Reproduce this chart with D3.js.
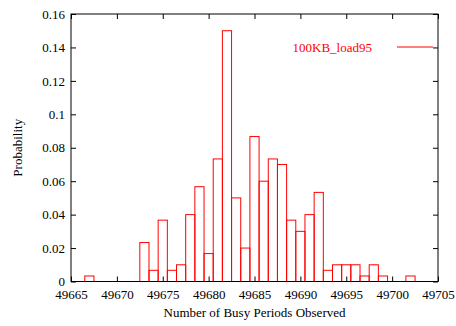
<!DOCTYPE html>
<html>
<head>
<meta charset="utf-8">
<script src="https://cdn.jsdelivr.net/npm/d3@7"></script>
<style>
  html, body { margin: 0; padding: 0; background: #fff; }
  svg { display: block; }
  text { font-family: "Liberation Serif", "Times New Roman", serif; }
</style>
</head>
<body>
<svg id="chart" width="456" height="326"></svg>
<script>
// Observed busy-period counts and their probabilities (share of 300 runs)
const busyPeriods = [49667, 49668, 49669, 49670, 49671, 49672, 49673, 49674, 49675, 49676,
  49677, 49678, 49679, 49680, 49681, 49682, 49683, 49684, 49685, 49686,
  49687, 49688, 49689, 49690, 49691, 49692, 49693, 49694, 49695, 49696,
  49697, 49698, 49699, 49700, 49701, 49702];
const probability = [0.0033, 0, 0, 0, 0, 0, 0.0233, 0.0067, 0.0367, 0.0067,
  0.01, 0.04, 0.0567, 0.0167, 0.0733, 0.15, 0.05, 0.02, 0.0867, 0.06,
  0.0733, 0.07, 0.0367, 0.03, 0.04, 0.0533, 0.0067, 0.01, 0.01, 0.01,
  0.0033, 0.01, 0.0033, 0, 0, 0.0033];
const xTicks = [49665, 49670, 49675, 49680, 49685, 49690, 49695, 49700, 49705];
const yTicks = [0, 0.02, 0.04, 0.06, 0.08, 0.1, 0.12, 0.14, 0.16];
const seriesName = "100KB_load95";

const svg = d3.select("#chart");
const plot = { left: 71, right: 438, top: 14, bottom: 281.5 };
const red = "#ff0000";
const fontSize = "13px";

const x = d3.scaleLinear().domain([49665, 49705]).range([plot.left, plot.right]);
const y = d3.scaleLinear().domain([0, 0.16]).range([plot.bottom, plot.top]);

// Histogram boxes: one unit wide, centred on each count
svg.append("g")
  .selectAll("rect")
  .data(busyPeriods.map((v, i) => ({ v, p: probability[i] })))
  .join("rect")
  .attr("x", d => x(d.v - 0.5))
  .attr("width", d => x(d.v + 0.5) - x(d.v - 0.5))
  .attr("y", d => y(d.p))
  .attr("height", d => y(0) - y(d.p))
  .attr("fill", "none")
  .attr("stroke", red)
  .attr("stroke-width", 1);

// Inward ticks on all four sides
const tickLen = 5;
const bottomAxis = d3.axisBottom(x).tickValues(xTicks).tickSize(-tickLen).tickPadding(8).tickFormat(d3.format("d"));
const topAxis = d3.axisTop(x).tickValues(xTicks).tickSize(-tickLen).tickFormat("");
const leftAxis = d3.axisLeft(y).tickValues(yTicks).tickSize(-tickLen).tickPadding(6).tickFormat(d => d === 0 ? "0" : String(+d.toFixed(2)));
const rightAxis = d3.axisRight(y).tickValues(yTicks).tickSize(-tickLen).tickFormat("");

function style(g) {
  g.select(".domain").remove();
  g.selectAll("line").attr("stroke", "#000");
  g.selectAll("text").attr("fill", "#000").style("font-size", fontSize)
    .style("font-family", "'Liberation Serif', serif");
}
svg.append("g").attr("transform", `translate(0,${plot.bottom})`).call(bottomAxis).call(style);
svg.append("g").attr("transform", `translate(0,${plot.top})`).call(topAxis).call(style);
svg.append("g").attr("transform", `translate(${plot.left},0)`).call(leftAxis).call(style);
svg.append("g").attr("transform", `translate(${plot.right},0)`).call(rightAxis).call(style);

// Plot frame
svg.append("rect")
  .attr("x", plot.left).attr("y", plot.top)
  .attr("width", plot.right - plot.left).attr("height", plot.bottom - plot.top)
  .attr("fill", "none").attr("stroke", "#000").attr("stroke-width", 1);

// Axis titles
svg.append("text")
  .attr("x", (plot.left + plot.right) / 2).attr("y", 317)
  .attr("text-anchor", "middle").style("font-size", fontSize)
  .text("Number of Busy Periods Observed");
svg.append("text")
  .attr("transform", `translate(22,${(plot.top + plot.bottom) / 2}) rotate(-90)`)
  .attr("text-anchor", "middle").style("font-size", fontSize)
  .text("Probability");

// Legend
const legY = 47;
svg.append("text")
  .attr("x", 372).attr("y", legY).attr("dy", "0.35em")
  .attr("text-anchor", "end").attr("fill", red).style("font-size", fontSize)
  .text(seriesName);
svg.append("line")
  .attr("x1", 397).attr("x2", 433).attr("y1", legY).attr("y2", legY)
  .attr("stroke", red).attr("stroke-width", 1.2);
</script>
</body>
</html>
